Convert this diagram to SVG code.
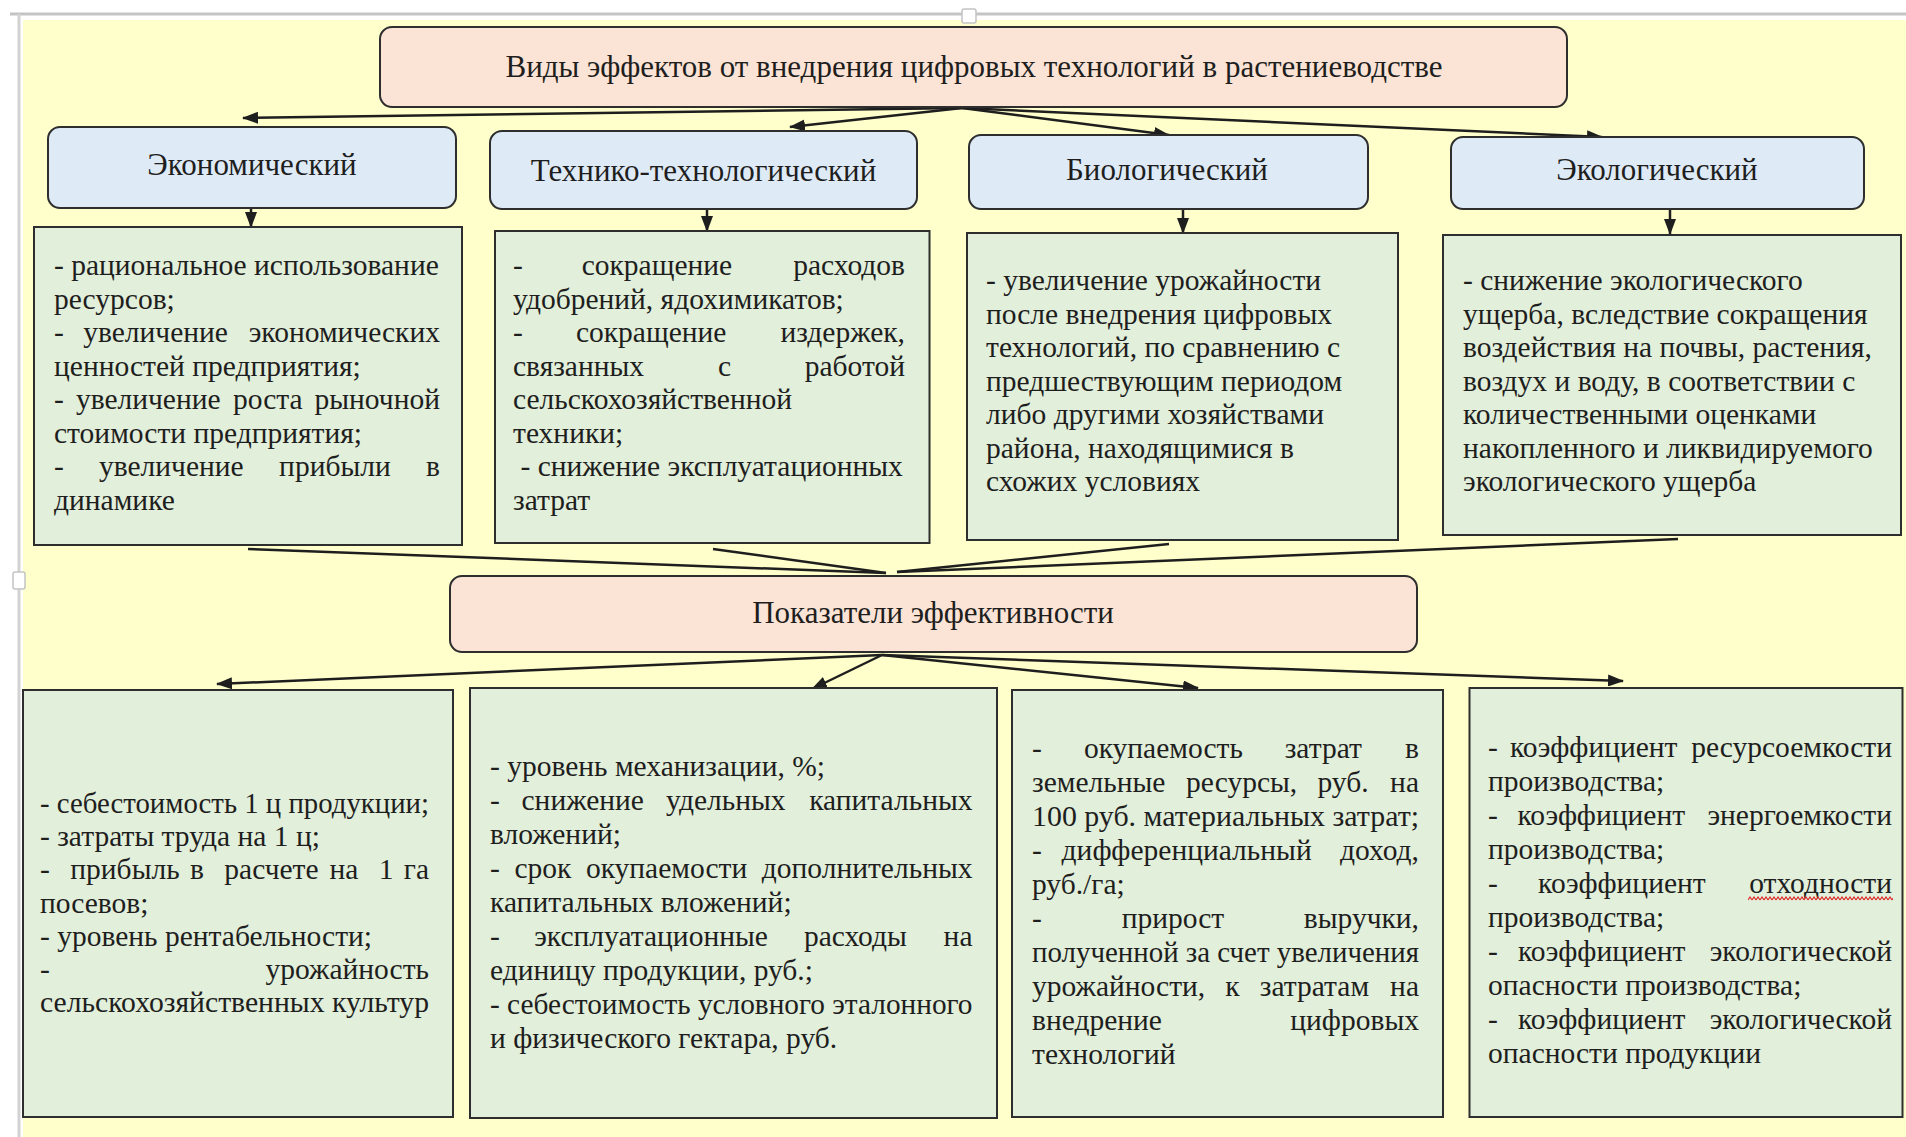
<svg xmlns="http://www.w3.org/2000/svg" width="1906" height="1137" viewBox="0 0 1906 1137">
<defs>
<style>
.b{font-family:"Liberation Serif","Times New Roman",serif;font-size:29.5px;fill:#1e1e1e}
.e{text-anchor:end}
.h{font-family:"Liberation Serif","Times New Roman",serif;font-size:31px;fill:#1e1e1e;text-anchor:middle}
.green{fill:#E2EFDA;stroke:#2e2e2e;stroke-width:2}
.blue{fill:#DEEBF7;stroke:#2e2e2e;stroke-width:2}
.peach{fill:#FBE4D5;stroke:#2e2e2e;stroke-width:2}
.ln{stroke:#1e1e1e;stroke-width:2.5;fill:none}
.ar{stroke:#1e1e1e;stroke-width:2.5;fill:none;marker-end:url(#ah)}
</style>
<marker id="ah" markerUnits="userSpaceOnUse" markerWidth="16" markerHeight="12" refX="15" refY="6" orient="auto">
<path d="M0,0 L16,6 L0,12 z" fill="#1e1e1e"/>
</marker>
<pattern id="wave" patternUnits="userSpaceOnUse" x="1748" y="896" width="4" height="5">
<path d="M0 4 L2 1 L4 4" stroke="#e02020" stroke-width="1.1" fill="none"/>
</pattern>
</defs>

<rect x="0" y="0" width="1906" height="1137" fill="#ffffff"/>
<rect x="23" y="20" width="1883" height="1117" fill="#FFFFCC"/>
<line x1="10" y1="14" x2="1906" y2="14" stroke="#c4c4c4" stroke-width="3"/>
<line x1="19" y1="14" x2="19" y2="1137" stroke="#d2d2d2" stroke-width="3"/>
<rect x="962" y="9" width="14" height="14" rx="2" fill="#ffffff" stroke="#c4c4c4" stroke-width="1.5"/>
<rect x="13" y="572" width="12" height="17" rx="2" fill="#ffffff" stroke="#c4c4c4" stroke-width="1.5"/>

<g id="connectors">
<line class="ar" x1="962" y1="108" x2="243" y2="118"/>
<line class="ar" x1="962" y1="108" x2="790" y2="127"/>
<line class="ar" x1="962" y1="108" x2="1169" y2="135"/>
<line class="ar" x1="962" y1="108" x2="1602" y2="137"/>
<line class="ar" x1="251" y1="208" x2="251" y2="227"/>
<line class="ar" x1="707" y1="209" x2="707" y2="231"/>
<line class="ar" x1="1183" y1="209" x2="1183" y2="233"/>
<line class="ar" x1="1670" y1="209" x2="1670" y2="234"/>
<line class="ln" x1="248" y1="549" x2="886" y2="573"/>
<line class="ln" x1="713" y1="549" x2="886" y2="573"/>
<line class="ln" x1="1169" y1="544" x2="897" y2="572"/>
<line class="ln" x1="1678" y1="539" x2="897" y2="572"/>
<line class="ar" x1="882" y1="655" x2="217" y2="684"/>
<line class="ar" x1="882" y1="655" x2="812" y2="689"/>
<line class="ar" x1="882" y1="655" x2="1198" y2="688"/>
<line class="ar" x1="882" y1="655" x2="1623" y2="681"/>
</g>

<g id="title">
<rect class="peach" x="380" y="27" width="1187" height="80" rx="12"/>
<text class="h" x="974" y="77">Виды эффектов от внедрения цифровых технологий в растениеводстве</text>
</g>

<g id="economic">
<rect class="blue" x="48" y="127" width="408" height="81" rx="12"/>
<text class="h" x="252" y="175">Экономический</text>
</g>
<g id="technical">
<rect class="blue" x="490" y="131" width="427" height="78" rx="12"/>
<text class="h" x="703.5" y="181">Технико-технологический</text>
</g>
<g id="biological">
<rect class="blue" x="969" y="135" width="399" height="74" rx="12"/>
<text class="h" x="1167" y="180">Биологический</text>
</g>
<g id="ecological">
<rect class="blue" x="1451" y="137" width="413" height="72" rx="12"/>
<text class="h" x="1657" y="180">Экологический</text>
</g>

<g id="economic-effects">
<rect class="green" x="34" y="227" width="428" height="318"/>
<text class="b" x="54" y="275">- рациональное использование</text>
<text class="b" x="54" y="308.5">ресурсов;</text>
<text class="b" y="342"><tspan x="54">-</tspan><tspan x="83.2">увеличение</tspan></text>
<text class="b e" x="440" y="342">экономических</text>
<text class="b" x="54" y="375.5">ценностей предприятия;</text>
<text class="b" y="409"><tspan x="54">-</tspan><tspan x="75.9">увеличение</tspan><tspan x="232.9">роста</tspan></text>
<text class="b e" x="440" y="409">рыночной</text>
<text class="b" x="54" y="442.5">стоимости предприятия;</text>
<text class="b" y="476"><tspan x="54">-</tspan><tspan x="99">увеличение</tspan><tspan x="279.1">прибыли</tspan></text>
<text class="b e" x="440" y="476">в</text>
<text class="b" x="54" y="509.5">динамике</text>
</g>

<g id="technical-effects">
<rect class="green" x="495" y="231" width="434.5" height="312"/>
<text class="b" y="275"><tspan x="513">-</tspan><tspan x="581.7">сокращение</tspan></text>
<text class="b e" x="905" y="275">расходов</text>
<text class="b" x="513" y="308.5">удобрений, ядохимикатов;</text>
<text class="b" y="342"><tspan x="513">-</tspan><tspan x="575.9">сокращение</tspan></text>
<text class="b e" x="905" y="342">издержек,</text>
<text class="b" y="375.5"><tspan x="513">связанных</tspan><tspan x="718">с</tspan></text>
<text class="b e" x="905" y="375.5">работой</text>
<text class="b" x="513" y="409">сельскохозяйственной</text>
<text class="b" x="513" y="442.5">техники;</text>
<text class="b" x="520.5" y="476">- снижение эксплуатационных</text>
<text class="b" x="513" y="509.5">затрат</text>
</g>

<g id="biological-effects">
<rect class="green" x="967" y="233" width="431" height="307"/>
<text class="b" x="986" y="290">- увеличение урожайности</text>
<text class="b" x="986" y="323.5">после внедрения цифровых</text>
<text class="b" x="986" y="357">технологий, по сравнению с</text>
<text class="b" x="986" y="390.5">предшествующим периодом</text>
<text class="b" x="986" y="424">либо другими хозяйствами</text>
<text class="b" x="986" y="457.5">района, находящимися в</text>
<text class="b" x="986" y="491">схожих условиях</text>
</g>

<g id="ecological-effects">
<rect class="green" x="1443" y="235" width="458" height="300"/>
<text class="b" x="1463" y="290">- снижение экологического</text>
<text class="b" x="1463" y="323.5">ущерба, вследствие сокращения</text>
<text class="b" x="1463" y="357">воздействия на почвы, растения,</text>
<text class="b" x="1463" y="390.5">воздух и воду, в соответствии с</text>
<text class="b" x="1463" y="424">количественными оценками</text>
<text class="b" x="1463" y="457.5">накопленного и ликвидируемого</text>
<text class="b" x="1463" y="491">экологического ущерба</text>
</g>

<g id="indicators">
<rect class="peach" x="450" y="576" width="967" height="76" rx="12"/>
<text class="h" x="933" y="623">Показатели эффективности</text>
</g>

<g id="economic-indicators">
<rect class="green" x="23" y="690" width="430" height="427"/>
<text class="b" x="40" y="813" textLength="389" lengthAdjust="spacingAndGlyphs">- себестоимость 1 ц продукции;</text>
<text class="b" x="40" y="846">- затраты труда на 1 ц;</text>
<text class="b" y="879"><tspan x="40">-</tspan><tspan x="70.3">прибыль</tspan><tspan x="189.9">в</tspan><tspan x="224.3">расчете</tspan><tspan x="329.4">на</tspan><tspan x="378.8">1</tspan></text>
<text class="b e" x="429" y="879">га</text>
<text class="b" x="40" y="913">посевов;</text>
<text class="b" x="40" y="946">- уровень рентабельности;</text>
<text class="b" x="40" y="979">-</text>
<text class="b e" x="429" y="979">урожайность</text>
<text class="b" x="40" y="1012" textLength="389" lengthAdjust="spacingAndGlyphs">сельскохозяйственных культур</text>
</g>

<g id="technical-indicators">
<rect class="green" x="470" y="688" width="527" height="430"/>
<text class="b" x="490" y="776">- уровень механизации, %;</text>
<text class="b" y="810"><tspan x="490">-</tspan><tspan x="521.5">снижение</tspan><tspan x="666">удельных</tspan></text>
<text class="b e" x="972.5" y="810">капитальных</text>
<text class="b" x="490" y="844">вложений;</text>
<text class="b" y="878"><tspan x="490">-</tspan><tspan x="514.4">срок</tspan><tspan x="585.9">окупаемости</tspan></text>
<text class="b e" x="972.5" y="878">дополнительных</text>
<text class="b" x="490" y="912">капитальных вложений;</text>
<text class="b" y="946"><tspan x="490">-</tspan><tspan x="534.2">эксплуатационные</tspan><tspan x="803.9">расходы</tspan></text>
<text class="b e" x="972.5" y="946">на</text>
<text class="b" x="490" y="980">единицу продукции, руб.;</text>
<text class="b" x="490" y="1014" textLength="482.5" lengthAdjust="spacingAndGlyphs">- себестоимость условного эталонного</text>
<text class="b" x="490" y="1048">и физического гектара, руб.</text>
</g>

<g id="biological-indicators">
<rect class="green" x="1012" y="690" width="431" height="427"/>
<text class="b" y="758"><tspan x="1032">-</tspan><tspan x="1083.9">окупаемость</tspan><tspan x="1284.7">затрат</tspan></text>
<text class="b e" x="1419" y="758">в</text>
<text class="b" y="792"><tspan x="1032">земельные</tspan><tspan x="1186.1">ресурсы,</tspan><tspan x="1317.5">руб.</tspan></text>
<text class="b e" x="1419" y="792">на</text>
<text class="b" x="1032" y="826" textLength="387" lengthAdjust="spacingAndGlyphs">100 руб. материальных затрат;</text>
<text class="b" y="860"><tspan x="1032">-</tspan><tspan x="1061.6">дифференциальный</tspan></text>
<text class="b e" x="1419" y="860">доход,</text>
<text class="b" x="1032" y="894">руб./га;</text>
<text class="b" y="928"><tspan x="1032">-</tspan><tspan x="1121.7">прирост</tspan></text>
<text class="b e" x="1419" y="928">выручки,</text>
<text class="b" x="1032" y="962" textLength="387" lengthAdjust="spacingAndGlyphs">полученной за счет увеличения</text>
<text class="b" y="996"><tspan x="1032">урожайности,</tspan><tspan x="1225.3">к</tspan><tspan x="1259.8">затратам</tspan></text>
<text class="b e" x="1419" y="996">на</text>
<text class="b" x="1032" y="1030">внедрение</text>
<text class="b e" x="1419" y="1030">цифровых</text>
<text class="b" x="1032" y="1064">технологий</text>
</g>

<g id="ecological-indicators">
<rect class="green" x="1469.5" y="688" width="433" height="429"/>
<text class="b" y="757"><tspan x="1488">-</tspan><tspan x="1509.9">коэффициент</tspan></text>
<text class="b e" x="1892" y="757">ресурсоемкости</text>
<text class="b" x="1488" y="791">производства;</text>
<text class="b" y="825"><tspan x="1488">-</tspan><tspan x="1517.5">коэффициент</tspan></text>
<text class="b e" x="1892" y="825">энергоемкости</text>
<text class="b" x="1488" y="859">производства;</text>
<text class="b" y="893"><tspan x="1488">-</tspan><tspan x="1538.1">коэффициент</tspan></text>
<text class="b e" x="1892" y="893">отходности</text>
<rect x="1748" y="896" width="145" height="5" fill="url(#wave)"/>
<text class="b" x="1488" y="927">производства;</text>
<text class="b" y="961"><tspan x="1488">-</tspan><tspan x="1517.9">коэффициент</tspan></text>
<text class="b e" x="1892" y="961">экологической</text>
<text class="b" x="1488" y="995">опасности производства;</text>
<text class="b" y="1029"><tspan x="1488">-</tspan><tspan x="1517.9">коэффициент</tspan></text>
<text class="b e" x="1892" y="1029">экологической</text>
<text class="b" x="1488" y="1063">опасности продукции</text>
</g>
</svg>
